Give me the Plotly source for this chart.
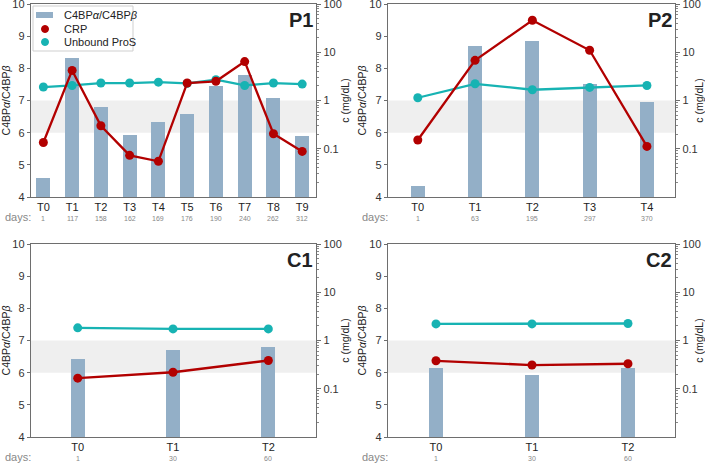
import plotly.graph_objects as go

# ---------------- data ----------------
p1_labels = ["T0", "T1", "T2", "T3", "T4", "T5", "T6", "T7", "T8", "T9"]
p1_days = [1, 117, 158, 162, 169, 176, 190, 240, 262, 312]
p1_ratio = [4.58, 8.31, 6.79, 5.92, 6.33, 6.58, 7.45, 7.79, 7.08, 5.89]
p1_crp = [0.135, 4.2, 0.30, 0.073, 0.055, 2.3, 2.5, 6.4, 0.205, 0.088]
p1_pros = [1.9, 2.05, 2.3, 2.3, 2.4, 2.26, 2.7, 2.05, 2.3, 2.19]

p2_labels = ["T0", "T1", "T2", "T3", "T4"]
p2_days = [1, 63, 195, 297, 370]
p2_ratio = [4.33, 8.68, 8.85, 7.51, 6.95]
p2_crp = [0.152, 6.8, 46, 11, 0.112]
p2_pros = [1.14, 2.22, 1.67, 1.87, 2.05]

c1_labels = ["T0", "T1", "T2"]
c1_days = [1, 30, 60]
c1_ratio = [6.44, 6.72, 6.81]
c1_crp = [0.166, 0.22, 0.385]
c1_pros = [1.83, 1.74, 1.74]

c2_labels = ["T0", "T1", "T2"]
c2_days = [1, 30, 60]
c2_ratio = [6.16, 5.94, 6.13]
c2_crp = [0.38, 0.31, 0.33]
c2_pros = [2.21, 2.21, 2.25]

legend_labels = ["C4BP<i>α</i>/C4BP<i>β</i>", "CRP", "Unbound ProS"]

panels = [
    dict(name="P1", labels=p1_labels, days=p1_days, ratio=p1_ratio, crp=p1_crp, pros=p1_pros),
    dict(name="P2", labels=p2_labels, days=p2_days, ratio=p2_ratio, crp=p2_crp, pros=p2_pros),
    dict(name="C1", labels=c1_labels, days=c1_days, ratio=c1_ratio, crp=c1_crp, pros=c1_pros),
    dict(name="C2", labels=c2_labels, days=c2_days, ratio=c2_ratio, crp=c2_crp, pros=c2_pros),
]

# ---------------- style ----------------
W, H = 705, 463
BAR = "#93afc7"
RED = "#b20000"
TEAL = "#17b3b3"
BAND = "#efefef"
SPINE = "#6e6e6e"
FONT = "Liberation Sans, Arial, sans-serif"

# pixel boxes (left, right, top, bottom)
boxes = [(31, 316, 4, 197), (388, 675, 4, 197), (31, 316, 244, 437), (388, 675, 244, 437)]
xranges = [(-0.43, 9.48), (-0.52, 4.49), (-0.49, 2.5), (-0.5, 2.49)]
left_standoff = [5, 0, 5, 0]
bar_px = 14


def px(x):
    return x / W


def py(y):
    return 1 - y / H


fig = go.Figure()
layout = dict(
    width=W, height=H, margin=dict(l=0, r=0, t=0, b=0, autoexpand=False),
    paper_bgcolor="white", plot_bgcolor="white",
    font=dict(family=FONT, size=11, color="#333"),
    showlegend=False,
    bargap=0,
    barmode="overlay",
)
shapes = []
annotations = []

minor_vals = []
for e in range(-2, 2):
    for m in range(2, 10):
        minor_vals.append(m * 10 ** e)

for i, p in enumerate(panels):
    k = i + 1
    xa = "x" if k == 1 else f"x{k}"
    yl_idx = 2 * i + 1
    yr_idx = 2 * i + 2
    yl = "y" if yl_idx == 1 else f"y{yl_idx}"
    yr = f"y{yr_idx}"
    L, R, T, B = boxes[i]
    x0, x1 = xranges[i]
    n = len(p["labels"])
    xs = list(range(n))
    width_units = bar_px * (x1 - x0) / (R - L)

    fig.add_trace(go.Bar(
        x=xs, y=[v - 4 for v in p["ratio"]], base=4, width=width_units,
        marker=dict(color=BAR, line=dict(width=0)),
        name=legend_labels[0], xaxis=xa, yaxis=yl, hoverinfo="skip",
    ))
    fig.add_trace(go.Scatter(
        x=xs, y=p["pros"], mode="lines+markers",
        line=dict(color=TEAL, width=2.3), marker=dict(color=TEAL, size=9),
        name=legend_labels[2], xaxis=xa, yaxis=yr,
    ))
    fig.add_trace(go.Scatter(
        x=xs, y=p["crp"], mode="lines+markers",
        line=dict(color=RED, width=2.3), marker=dict(color=RED, size=9),
        name=legend_labels[1], xaxis=xa, yaxis=yr,
    ))

    xd = [px(L), px(R)]
    yd = [py(B), py(T)]
    xkey = "xaxis" if k == 1 else f"xaxis{k}"
    ylkey = "yaxis" if yl_idx == 1 else f"yaxis{yl_idx}"
    yrkey = f"yaxis{yr_idx}"
    layout[xkey] = dict(
        domain=xd, anchor=yl, range=[x0, x1], automargin=False,
        tickmode="array", tickvals=xs, ticktext=p["labels"],
        showline=True, linecolor=SPINE, linewidth=1.2, mirror=True,
        showgrid=False, zeroline=False, ticks="", ticklen=0,
        tickfont=dict(size=11, color="#222"), fixedrange=True,
        ticklabeloverflow="allow",
    )
    layout[ylkey] = dict(
        domain=yd, anchor=xa, range=[4, 10], dtick=1, automargin=False,
        showline=True, linecolor=SPINE, linewidth=1.2,
        showgrid=False, zeroline=False, ticks="outside", ticklen=3, tickcolor=SPINE,
        tickfont=dict(size=11, color="#333"), ticklabeloverflow="allow",
        title=dict(text="C4BP<i>α</i>/C4BP<i>β</i>", font=dict(size=10.5, color="#222"),
                   standoff=left_standoff[i]),
    )
    layout[yrkey] = dict(
        overlaying=yl, side="right", anchor=xa, type="log", range=[-2, 2], automargin=False,
        tickmode="array", tickvals=[0.1, 1, 10, 100], ticktext=["0.1", "1", "10", "100"],
        showline=True, linecolor=SPINE, linewidth=1.2,
        showgrid=False, zeroline=False, ticks="outside", ticklen=4, tickcolor=SPINE,
        minor=dict(tickmode="array", tickvals=minor_vals, ticks="outside", ticklen=2,
                   tickcolor="#888", showgrid=False),
        tickfont=dict(size=11, color="#333"), ticklabeloverflow="allow",
        title=dict(text="c (mg/dL)", font=dict(size=10.5, color="#222"), standoff=0),
    )

    shapes.append(dict(type="rect", xref=f"{xa} domain", yref=yl, x0=0, x1=1, y0=6, y1=7,
                       fillcolor=BAND, line=dict(width=0), layer="below"))
    annotations.append(dict(text=f"<b>{p['name']}</b>", xref=f"{xa} domain", yref=f"{yl} domain",
                            x=0.995, y=0.985, xanchor="right", yanchor="top", showarrow=False,
                            font=dict(size=20, color="#222", family=FONT)))
    annotations.append(dict(text="days:", xref="paper", yref="paper",
                            x=px(L - 13), y=py(B + 20), xanchor="center", yanchor="middle",
                            showarrow=False, font=dict(size=11, color="#888")))
    for xi, d in zip(xs, p["days"]):
        annotations.append(dict(text=str(d), xref=xa, yref="paper",
                                x=xi, y=py(B + 21), xanchor="center", yanchor="middle",
                                showarrow=False, font=dict(size=7, color="#888")))

# ---- matplotlib-style legend box in P1 (upper left) ----
shapes.append(dict(type="rect", xref="paper", yref="paper", x0=px(33), x1=px(133), y0=py(51), y1=py(6),
                   fillcolor="rgba(255,255,255,0.85)", line=dict(color="#cfcfcf", width=1), layer="above"))
shapes.append(dict(type="rect", xref="paper", yref="paper", x0=px(36), x1=px(53), y0=py(18), y1=py(12),
                   fillcolor=BAR, line=dict(width=0), layer="above"))
for yy, col in [(29, RED), (42, TEAL)]:
    shapes.append(dict(type="circle", xref="paper", yref="paper",
                       x0=px(41.5), x1=px(48.5), y0=py(yy + 3.5), y1=py(yy - 3.5),
                       fillcolor=col, line=dict(color=col, width=1), layer="above"))
for yy, lab in zip([15, 29, 42], legend_labels):
    annotations.append(dict(text=lab, xref="paper", yref="paper", x=px(62), y=py(yy),
                            xanchor="left", yanchor="middle", showarrow=False,
                            font=dict(size=11, color="#222")))

layout["shapes"] = shapes
layout["annotations"] = annotations
fig.update_layout(**layout)

fig.write_html("out.html", config={"displayModeBar": False, "staticPlot": True},
               post_script="document.body.style.margin='0';document.body.style.overflow='hidden';")
